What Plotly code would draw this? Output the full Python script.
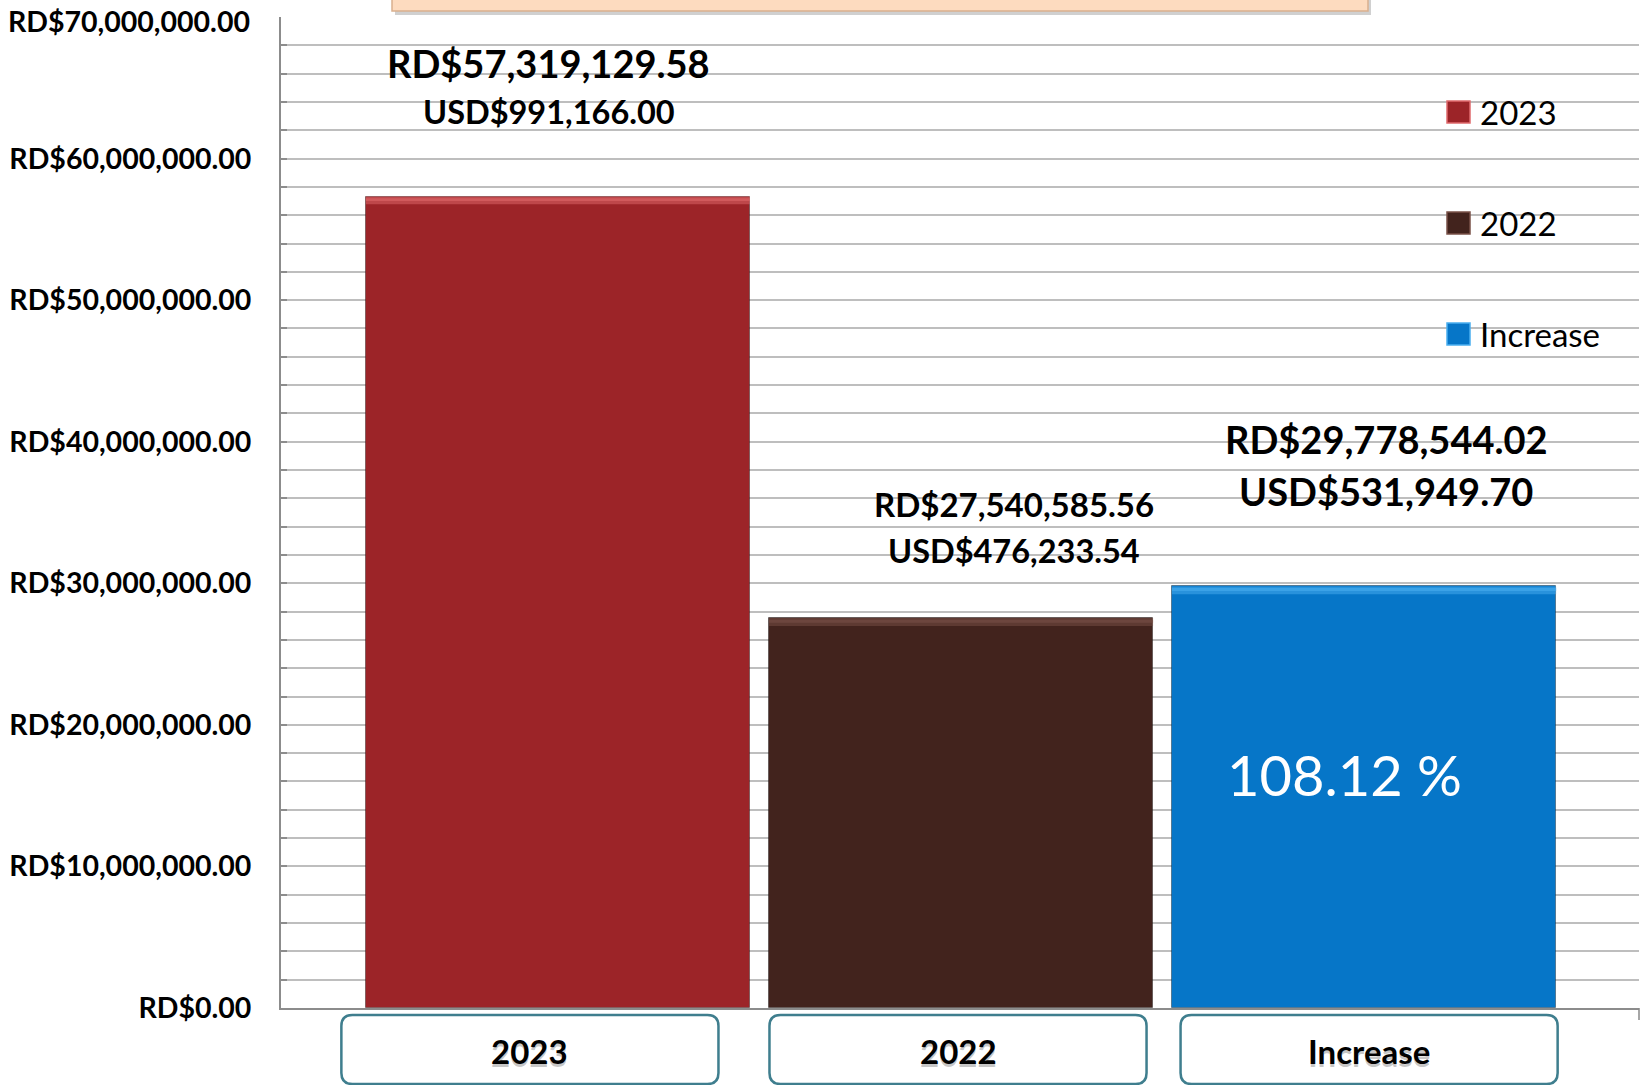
import plotly.graph_objects as go

categories = ["2023", "2022", "Increase"]
values_rd = [57319129.58, 27540585.56, 29778544.02]
values_usd = [991166.00, 476233.54, 531949.70]
pct_increase = 108.12
colors = ["#9C2428", "#42231D", "#0676C8"]
highlight = ["#E06A6C", "#7A5148", "#4AAEF0"]
ytick_vals = [0, 10e6, 20e6, 30e6, 40e6, 50e6, 60e6, 70e6]
ytick_text = [f"RD${v:,.2f}" for v in ytick_vals]

W, H = 1644, 1085
L = 281
T = 17
B = H - 1008
R = W - 1639
PW = W - L - R
PH = H - T - B

def px_x(p):
    return (p - L) / PW

def px_y(p):
    return (H - B - p) / PH

xs = list(range(len(categories)))
fig = go.Figure()
fig.add_trace(go.Bar(
    x=xs, y=values_rd, width=0.953,
    marker=dict(color=colors, line=dict(color="rgba(0,0,0,0.35)", width=1)),
    showlegend=False, hoverinfo="skip",
))

shapes = []
annotations = []

# bevel highlight on bar tops
for i, v in enumerate(values_rd):
    shapes.append(dict(type="rect", xref="x", yref="y",
                       x0=i - 0.4765, x1=i + 0.4765, y0=v - 0.55e6, y1=v,
                       fillcolor=highlight[i], line=dict(width=0), opacity=0.5, layer="above"))
    shapes.append(dict(type="rect", xref="x", yref="y",
                       x0=i - 0.4765, x1=i + 0.4765, y0=v - 0.32e6, y1=v - 0.12e6,
                       fillcolor=highlight[i], line=dict(width=0), opacity=0.55, layer="above"))

# value labels
rd_sizes = [38, 33, 38]
usd_sizes = [32.5, 32.5, 38]
rd_shift = [134, 114, 147]
usd_shift = [85, 68, 95]
x_shift = [-9, 53, 22]
for i, (rd, usd) in enumerate(zip(values_rd, values_usd)):
    annotations.append(dict(x=i, y=rd, xref="x", yref="y", text=f"RD${rd:,.2f}",
                            showarrow=False, xshift=x_shift[i], yshift=rd_shift[i],
                            font=dict(family="Lato", size=rd_sizes[i], color="#000000", weight="bold")))
    annotations.append(dict(x=i, y=rd, xref="x", yref="y", text=f"USD${usd:,.2f}",
                            showarrow=False, xshift=x_shift[i], yshift=usd_shift[i],
                            font=dict(family="Lato", size=usd_sizes[i], color="#000000", weight="bold")))

# percent inside increase bar
annotations.append(dict(x=2, y=values_rd[2] * 0.555, xref="x", yref="y", text=f"{pct_increase:.2f} %",
                        showarrow=False, xshift=-20,
                        font=dict(family="Lato", size=56, color="#FFFFFF")))

# top y tick label drawn as annotation so that it stays inside the page
annotations.append(dict(x=0, y=ytick_vals[-1], xref="paper", yref="y", text=ytick_text[-1],
                        showarrow=False, xanchor="right", yanchor="middle", xshift=-29, yshift=-4,
                        font=dict(family="Lato", size=28.5, color="#000000", weight="bold")))

# category label boxes
box_shift = [-28, -3, 5]
bw = 377 / 403 / 2
y_top = px_y(1015)
y_bot = px_y(1084)
r_x = 11 / 403
r_y = 11 / PH
for i, c in enumerate(categories):
    cx = i + box_shift[i] / 403
    x0, x1 = cx - bw, cx + bw
    path = (f"M {x0 + r_x},{y_top} L {x1 - r_x},{y_top} Q {x1},{y_top} {x1},{y_top - r_y} "
            f"L {x1},{y_bot + r_y} Q {x1},{y_bot} {x1 - r_x},{y_bot} L {x0 + r_x},{y_bot} "
            f"Q {x0},{y_bot} {x0},{y_bot + r_y} L {x0},{y_top - r_y} Q {x0},{y_top} {x0 + r_x},{y_top} Z")
    shapes.append(dict(type="path", xref="x", yref="paper", path=path,
                       fillcolor="#FFFFFF", line=dict(color="#3F7E8E", width=2.5), layer="above"))
    annotations.append(dict(x=cx, y=px_y(1051), xref="x", yref="paper", text=c, showarrow=False,
                            yanchor="middle", yshift=-3,
                            font=dict(family="Lato", size=33, color="rgba(0,0,0,0.22)", weight="bold")))
    annotations.append(dict(x=cx, y=px_y(1051), xref="x", yref="paper", text=c, showarrow=False,
                            yanchor="middle",
                            font=dict(family="Lato", size=33, color="#000000", weight="bold")))

# manual legend
leg_y = [112, 223, 334]
for i, c in enumerate(categories):
    yc = leg_y[i]
    shapes.append(dict(type="rect", xref="paper", yref="paper",
                       x0=px_x(1447), x1=px_x(1470), y0=px_y(yc + 11), y1=px_y(yc - 11),
                       fillcolor=colors[i], line=dict(color=highlight[i], width=1.5), layer="above"))
    annotations.append(dict(x=px_x(1478), y=px_y(yc), xref="paper", yref="paper", text=c,
                            showarrow=False, xanchor="left", yanchor="middle",
                            font=dict(family="Lato", size=33, color="#000000")))

# peach title box (cut off at top) with shadow
shapes.append(dict(type="rect", xref="paper", yref="paper",
                   x0=px_x(395), x1=px_x(1371), y0=px_y(15), y1=1.2,
                   fillcolor="rgba(120,120,120,0.35)", line=dict(width=0), layer="above"))
shapes.append(dict(type="rect", xref="paper", yref="paper",
                   x0=px_x(392), x1=px_x(1368), y0=px_y(11), y1=1.2,
                   fillcolor="#FDDBBF", line=dict(color="#D9B08F", width=1.5), layer="above"))

# right-end small tick of baseline
shapes.append(dict(type="line", xref="paper", yref="paper", x0=1, x1=1, y0=0, y1=px_y(1020),
                   line=dict(color="#888888", width=1.5)))

fig.update_layout(
    width=W, height=H,
    margin=dict(l=L, r=R, t=T, b=B, autoexpand=False),
    paper_bgcolor="#FFFFFF", plot_bgcolor="#FFFFFF",
    font=dict(family="Lato", color="#000000"),
    shapes=shapes, annotations=annotations,
    bargap=0,
    xaxis=dict(range=[-0.687, 2.682], showticklabels=False, showgrid=False, zeroline=False,
               showline=True, linecolor="#8C8C8C", linewidth=2, ticks="", automargin=False),
    yaxis=dict(range=[0, 70e6], tickvals=ytick_vals[:-1] + [ytick_vals[-1]],
               ticktext=ytick_text[:-1] + [""],
               tickfont=dict(family="Lato", size=28.5, color="#000000", weight="bold"),
               showgrid=True, gridcolor="#BEBEBE", gridwidth=1.5, zeroline=False,
               showline=True, linecolor="#8C8C8C", linewidth=2,
               ticks="inside", ticklen=6, tickcolor="#8C8C8C", tickwidth=2,
               ticklabelstandoff=22, ticklabeloverflow="allow", automargin=False,
               minor=dict(dtick=2e6, showgrid=True, gridcolor="#BEBEBE", gridwidth=1.5,
                          ticks="inside", ticklen=6, tickcolor="#8C8C8C")),
)

fig.write_html("out.html", config={"displayModeBar": False},
               post_script="document.body.style.margin='0';document.body.style.overflow='hidden';")
